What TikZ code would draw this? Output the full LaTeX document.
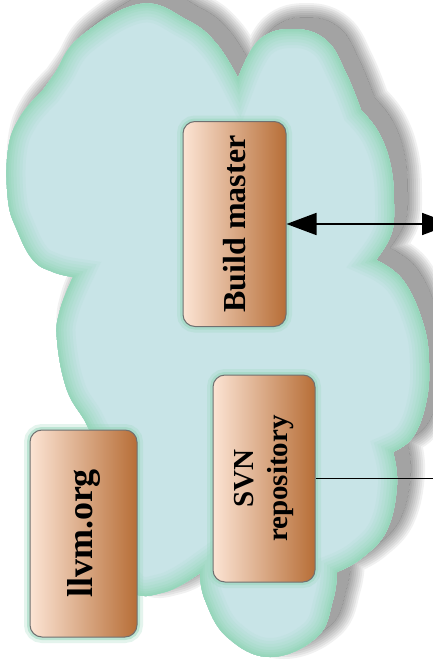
\documentclass[tikz,border=0pt]{standalone}
\usepackage{fontspec}
\setmainfont{Liberation Serif}
\usepackage{graphicx}
\usetikzlibrary{arrows.meta}
\definecolor{cloudblue}{RGB}{200,228,231}
\definecolor{mint}{RGB}{150,214,186}
\definecolor{boxL}{RGB}{252,228,212}
\definecolor{boxR}{RGB}{183,110,55}
\definecolor{boxedge}{RGB}{112,112,112}
\def\cloudpath{plot[smooth,tension=0.7] coordinates {(238,78) (259,40) (293,29) (326,40) (346,73) (361,110)}
 -- plot[smooth,tension=0.7] coordinates {(361,110) (379,133) (391,167) (394,207) (391,235) (376,260)}
 -- plot[smooth,tension=0.7] coordinates {(376,260) (403,280) (423,323) (429,363) (426,403) (413,437) (393,452)}
 -- plot[smooth,tension=0.7] coordinates {(393,452) (397,485) (387,530) (362,558) (337,572)}
 -- plot[smooth,tension=0.7] coordinates {(337,572) (333,600) (317,637) (270,657) (227,637) (205,600) (200,573)}
 -- plot[smooth,tension=0.7] coordinates {(200,573) (165,592) (130,590) (110,540) (100,460) (87,425) (67,390) (57,340) (60,310) (73,277)}
 -- plot[smooth,tension=0.7] coordinates {(73,277) (53,272) (33,260) (17,230) (8,200) (8,150) (20,117) (43,90)}
 -- plot[smooth,tension=0.7] coordinates {(43,90) (55,73) (80,37) (140,4) (187,20) (216,43) (238,78)}
 -- cycle}
\tikzset{
 box/.style={rounded corners=12pt, draw=boxedge, line width=1pt, left color=boxL, right color=boxR,
   inner sep=0pt, preaction={draw=mint, line width=12pt, draw opacity=0.25},
   preaction={draw=mint, line width=6pt, draw opacity=0.5}},
 conn/.style={line width=1.8pt, draw=black}
}
\begin{document}
\begin{tikzpicture}[x=1pt,y=-1pt]
\useasboundingbox (0,0) rectangle (432,661);
\fill[white] (0,0) rectangle (432,661);
% soft drop shadow
\begin{scope}[shift={(14,-12)}]
 \fill[black, opacity=0.36] \cloudpath;
 \begin{scope}[even odd rule]
  \clip (-100,-100) rectangle (600,800) \cloudpath;
  \foreach \w in {28,24,20,16,12,8,4} {\draw[black, draw opacity=0.055, line width=\w pt] \cloudpath;}
 \end{scope}
\end{scope}
% cloud
\fill[cloudblue] \cloudpath;
\begin{scope}
 \clip \cloudpath;
 \foreach \w/\p in {38/12, 32/25, 26/38, 20/52, 14/66, 9/80, 5/92, 2/100} {\draw[mint!\p!cloudblue, line width=\w pt] \cloudpath;}
\end{scope}
% boxes
\node[box, minimum width=103pt, minimum height=205pt, font=\bfseries\fontsize{32}{34}\selectfont] (bm) at (234.5,224) {\rotatebox{90}{Build master}};
\node[box, minimum width=102pt, minimum height=207pt, font=\bfseries\fontsize{29}{34}\selectfont] (svn) at (264,478.5) {\rotatebox{90}{\begin{tabular}{@{}c@{}}SVN\\repository\end{tabular}}};
\node[box, minimum width=107pt, minimum height=207pt, font=\bfseries\fontsize{36}{38}\selectfont] (llvm) at (83.5,533.5) {\rotatebox{90}{llvm.org}};
% connectors
\coordinate (bmout) at (452,224);
\coordinate (svnout) at (445,478.5);
\draw[conn, {Triangle[length=30pt,width=22pt]}-{Triangle[length=30pt,width=22pt]}] (bm.east) -- (bmout);
\draw[conn] (svn.east) -- (svnout);
\end{tikzpicture}
\end{document}
